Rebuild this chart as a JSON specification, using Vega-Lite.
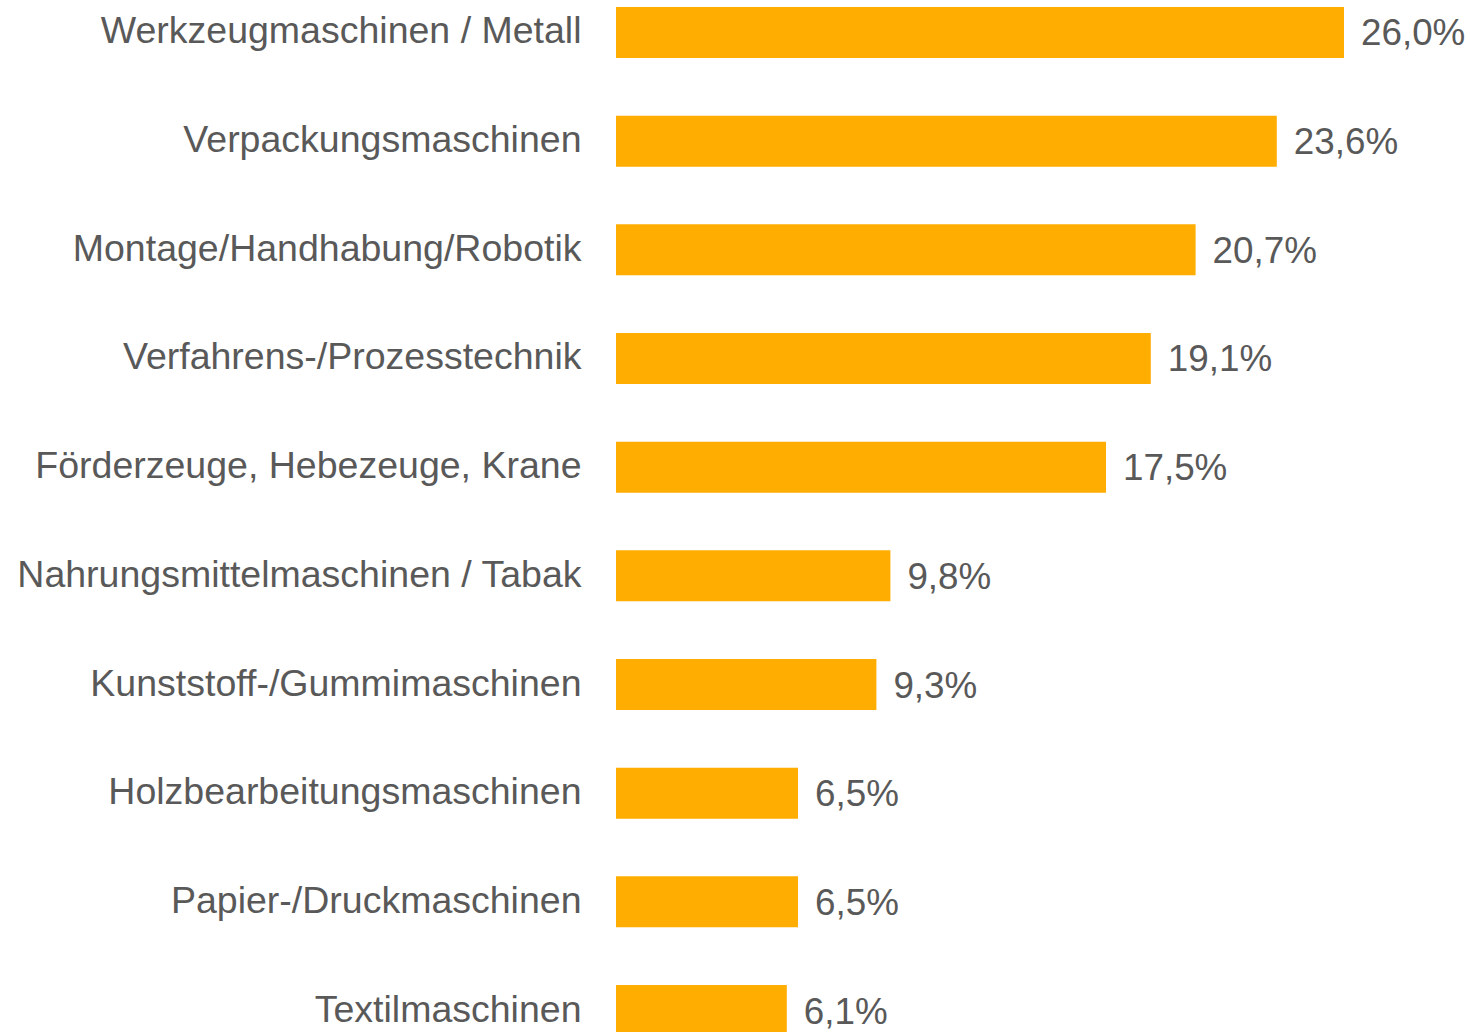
{
  "$schema": "https://vega.github.io/schema/vega-lite/v6.json",
  "width": 728,
  "height": 1029,
  "autosize": {"type": "none"},
  "padding": {"left": 616, "top": 7, "right": 126, "bottom": 0},
  "background": "white",
  "config": {
    "view": {"stroke": null},
    "font": "Liberation Sans",
    "locale": {
      "number": {"decimal": ",", "thousands": ".", "grouping": [3], "currency": ["", " €"]}
    }
  },
  "data": {
    "values": [
      {"kategorie": "Werkzeugmaschinen / Metall", "anteil": 0.260},
      {"kategorie": "Verpackungsmaschinen", "anteil": 0.236},
      {"kategorie": "Montage/Handhabung/Robotik", "anteil": 0.207},
      {"kategorie": "Verfahrens-/Prozesstechnik", "anteil": 0.191},
      {"kategorie": "Förderzeuge, Hebezeuge, Krane", "anteil": 0.175},
      {"kategorie": "Nahrungsmittelmaschinen / Tabak", "anteil": 0.098},
      {"kategorie": "Kunststoff-/Gummimaschinen", "anteil": 0.093},
      {"kategorie": "Holzbearbeitungsmaschinen", "anteil": 0.065},
      {"kategorie": "Papier-/Druckmaschinen", "anteil": 0.065},
      {"kategorie": "Textilmaschinen", "anteil": 0.061}
    ]
  },
  "encoding": {
    "y": {
      "field": "kategorie",
      "type": "nominal",
      "sort": null,
      "scale": {"paddingInner": 0.531, "paddingOuter": 0},
      "axis": {
        "title": null,
        "domain": false,
        "ticks": false,
        "labelFontSize": 37.5,
        "labelColor": "#595959",
        "labelPadding": 35,
        "labelLimit": 700
      }
    },
    "x": {
      "field": "anteil",
      "type": "quantitative",
      "scale": {"domain": [0, 0.26], "nice": false},
      "axis": null
    }
  },
  "layer": [
    {"mark": {"type": "bar", "color": "#FFAD00"}},
    {
      "mark": {"type": "text", "align": "left", "baseline": "middle", "dx": 17, "dy": 2, "fontSize": 36.8, "color": "#595959"},
      "encoding": {"text": {"field": "anteil", "type": "quantitative", "format": ".1%"}}
    }
  ]
}
